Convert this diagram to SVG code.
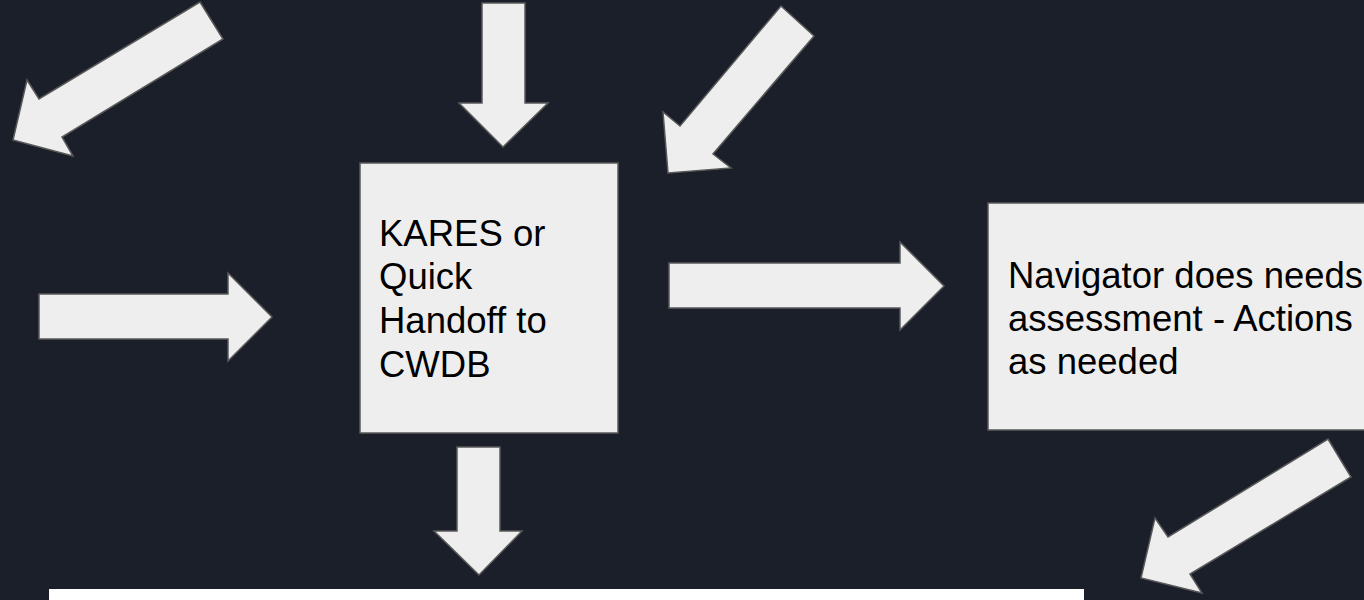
<svg xmlns="http://www.w3.org/2000/svg" width="1364" height="600" viewBox="0 0 1364 600">
<style>
.shape{fill:#eeeeee;stroke:#595959;stroke-width:1.5;stroke-linejoin:miter}
.lbl{font-family:"Liberation Sans",Arial,sans-serif;font-size:36.5px;fill:#000000}
</style>
<rect x="0" y="0" width="1364" height="600" fill="#1b1f2a"/>
<g id="connectors">
<polygon class="shape" points="200,2 223,39 62,137 73,156 13,140 27,80 39,99"/>
<polygon class="shape" points="482,3 525,3 525,103 548,103 503,147 459,103 482,103"/>
<polygon class="shape" points="781,6 814,36 713,154 731,168 668,173 663,112 680,126"/>
<polygon class="shape" points="39,294 228,294 228,273 272,317 228,361 228,339 39,339"/>
<polygon class="shape" points="669,263 900,263 900,242 944,286 900,330 900,308 669,308"/>
<polygon class="shape" points="457,447 500,447 500,531 522,531 479,575 434,531 457,531"/>
<polygon class="shape" points="1328,439 1351,477 1190,574 1202,593 1141,578 1155,518 1168,537"/>
</g>
<g id="node-kares">
<rect class="shape" x="360" y="163" width="258" height="270"/>
<text class="lbl" x="379" y="246">KARES or</text>
<text class="lbl" x="379" y="289">Quick</text>
<text class="lbl" x="379" y="333">Handoff to</text>
<text class="lbl" x="379" y="377">CWDB</text>
</g>
<g id="node-navigator">
<rect class="shape" x="988" y="203" width="390" height="227"/>
<text class="lbl" x="1008" y="288">Navigator does needs</text>
<text class="lbl" x="1008" y="331">assessment - Actions</text>
<text class="lbl" x="1008" y="374">as needed</text>
</g>
<g id="node-bottom">
<rect x="49" y="589" width="1035" height="20" fill="#ffffff"/>
</g>
</svg>
